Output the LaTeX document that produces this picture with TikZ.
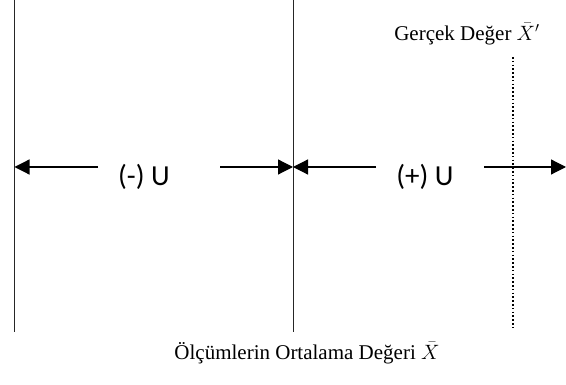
\documentclass[tikz,border=0pt]{standalone}
\usepackage{fontspec}
\setmainfont{Liberation Serif}
\newfontfamily\calfont{Carlito}
\usetikzlibrary{arrows.meta,positioning}
\tikzset{
  bound/.style={draw=black!85,line width=.9pt},
  truth/.style={draw=black,line width=1.2pt,dash pattern=on 1.6pt off 2.2pt},
  span/.style={draw=black,line width=1.2pt,-{Triangle[length=15pt,width=15pt]}},
  ulabel/.style={font=\calfont\fontsize{29}{33}\selectfont,inner sep=0pt},
  caption/.style={font=\fontsize{21}{25}\selectfont,inner sep=0pt}
}
\begin{document}
\begin{tikzpicture}[x=1pt,y=-1pt,line cap=butt,line join=miter]
\path[use as bounding box] (0,0) rectangle (566,385);
% vertical bounds
\coordinate (lefttop) at (14.5,0);
\coordinate (leftbot) at (14.5,332);
\coordinate (midtop) at (293,0);
\coordinate (midbot) at (293,332);
\coordinate (truetop) at (513,57);
\coordinate (truebot) at (513,330);
\draw[bound] (lefttop) -- (leftbot);
\draw[bound] (midtop) -- (midbot);
\draw[truth] (truetop) -- (truebot);
% labels
\node[ulabel] (neglabel) at (144,177) {(-) U};
\node[ulabel] (poslabel) at (425,177) {(+) U};
\node[caption] (truelabel) at (467,34) {Gerçek Değer $\bar{X}'$};
\node[caption] (meanlabel) at (307,353) {Ölçümlerin Ortalama Değeri $\bar{X}$};
% arrows
\coordinate (negfreeL) at (98,167);
\coordinate (negfreeR) at (220,167);
\coordinate (posfreeL) at (376,167);
\coordinate (posfreeR) at (484,167);
\coordinate (rightend) at (566,167);
\draw[span] (negfreeL) -- (lefttop |- negfreeL);
\draw[span] (negfreeR) -- (midtop |- negfreeR);
\draw[span] (posfreeL) -- (midtop |- posfreeL);
\draw[span] (posfreeR) -- (rightend);
\end{tikzpicture}
\end{document}
